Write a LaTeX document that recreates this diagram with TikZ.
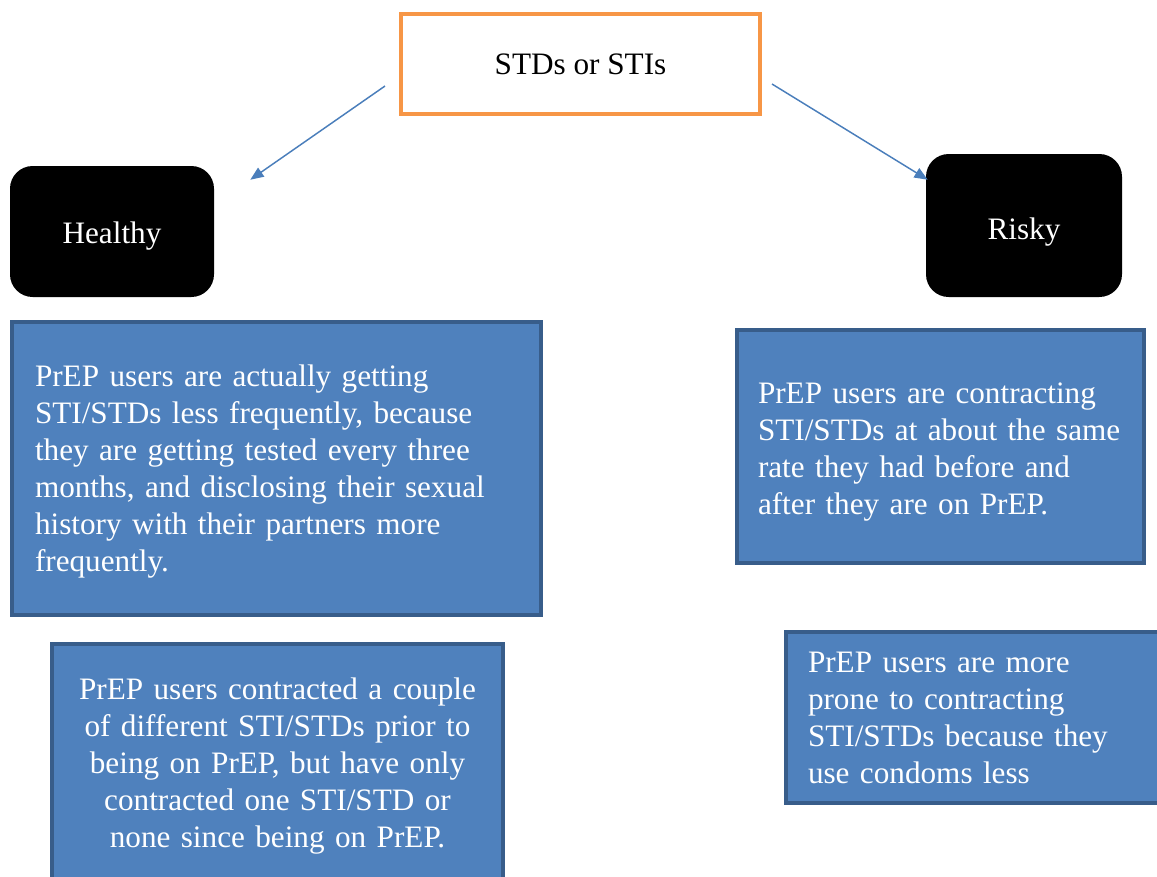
\documentclass[tikz,border=0pt]{standalone}
\usepackage{fontspec}
\setmainfont{Liberation Serif}
\usetikzlibrary{arrows.meta}
\definecolor{boxblue}{HTML}{4F81BD}
\definecolor{boxborder}{HTML}{385D8A}
\definecolor{orng}{HTML}{F79646}
\definecolor{arrblue}{HTML}{4A7EBB}
\begin{document}
\begin{tikzpicture}[x=0.75pt,y=-0.75pt,
  font=\fontsize{23.4}{27.75}\selectfont,
  topbox/.style={draw=orng, line width=3pt, fill=white, inner sep=0pt,
    minimum width=269.25pt, minimum height=75pt},
  blackbox/.style={fill=black, text=white, rounded corners=17pt, inner sep=0pt},
  infobox/.style={fill=boxblue, draw=boxborder, line width=3pt, text=white, inner ysep=0pt},
  arr/.style={draw=arrblue, line width=1.1pt, -{Triangle[length=10pt,width=8pt]}}]
\useasboundingbox (0,0) rectangle (1157,876);
\clip (0,0) rectangle (1157,876);

\node[topbox] (top) at (580.5,64) {STDs or STIs};
\node[blackbox, minimum width=153pt, minimum height=98.25pt] (healthy) at (112,231.5) {\raisebox{-3.5pt}[\height][\depth]{Healthy}};
\node[blackbox, minimum width=147pt, minimum height=107.25pt] (risky) at (1024,225.5) {\raisebox{-5pt}[\height][\depth]{Risky}};

\node[infobox, minimum width=396.75pt, minimum height=219.75pt, inner xsep=17.25pt, text width=362.25pt, align=left] (h1) at (276.5,468.5)
  {\mbox{\rule{0pt}{20.5pt}PrEP users are actually getting}\\\mbox{STI/STDs less frequently, because}\\\mbox{they are getting tested every three}\\\mbox{months, and disclosing their sexual}\\\mbox{history with their partners more}\\frequently.};
\node[infobox, minimum width=338.25pt, minimum height=183pt, inner xsep=0pt, text width=320pt, align=center] (h2) at (277.5,766)
  {PrEP users contracted a couple\\of different STI/STDs prior to\\being on PrEP, but have only\\contracted one STI/STD or\\none since being on PrEP.};
\node[infobox, minimum width=305.25pt, minimum height=174.75pt, inner xsep=15.75pt, text width=273.75pt, align=left] (r1) at (940.5,446.5)
  {\mbox{\rule{0pt}{24.5pt}PrEP users are contracting}\\\mbox{STI/STDs at about the same}\\\mbox{rate they had before and}\\\mbox{after they are on PrEP.}};
\node[infobox, minimum width=286.5pt, minimum height=128.25pt, inner xsep=16.5pt, text width=253.5pt, align=left] (r2) at (977,717.5)
  {\mbox{PrEP users are more}\\\mbox{prone to contracting}\\\mbox{STI/STDs because they}\\\mbox{use condoms less}};

\draw[arr] ([shift={(-14,22)}]top.west) -- ([shift={(36,14)}]healthy.north east);
\draw[arr] ([shift={(10,20)}]top.east) -- ([shift={(2,26)}]risky.north west);
\end{tikzpicture}
\end{document}
